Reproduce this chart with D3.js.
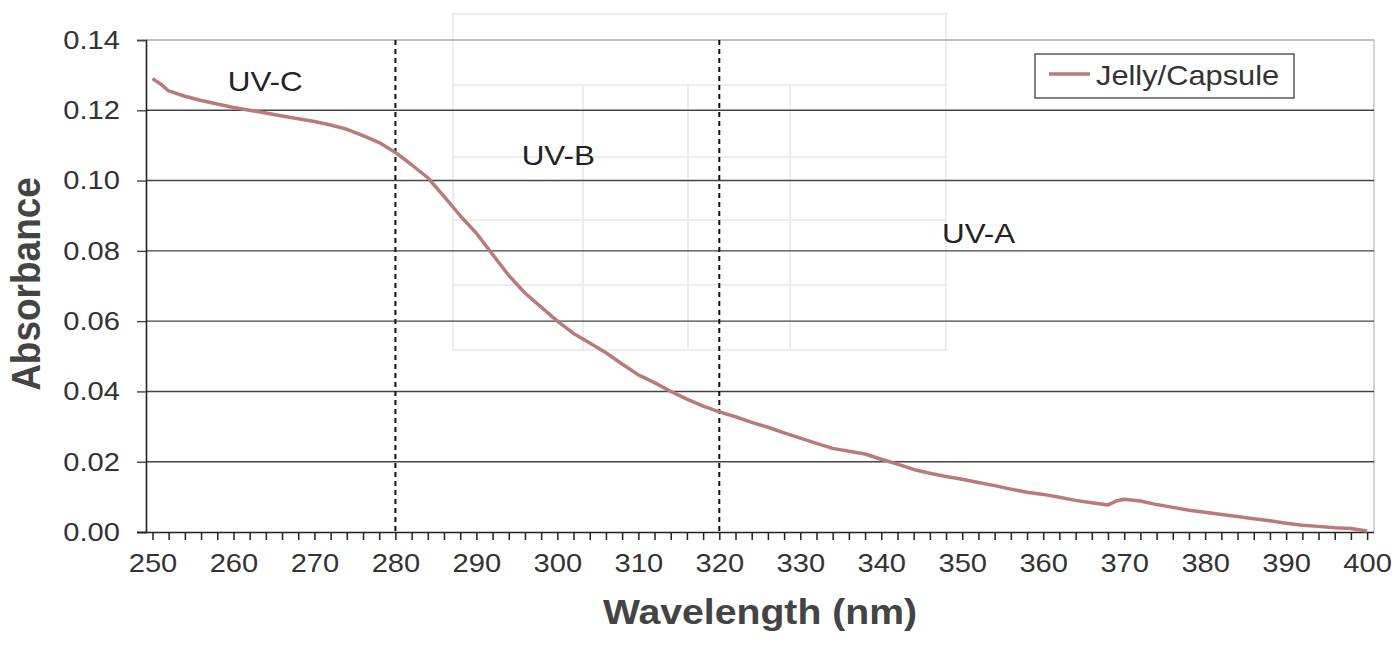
<!DOCTYPE html>
<html>
<head>
<meta charset="utf-8">
<script src="https://cdn.jsdelivr.net/npm/d3@7"></script>
<style>
  html, body { margin: 0; padding: 0; background: #fff; }
  svg { display: block; }
  text { font-family: "Liberation Sans", Arial, sans-serif; }
</style>
</head>
<body>
<svg id="chart" width="1400" height="647"></svg>
<script>
// ---- data ----
const wavelengths = [250,251,252,254,256,258,260,262,264,266,268,270,272,274,276,278,280,282,284,286,288,290,292,294,296,298,300,302,304,306,308,310,312,314,316,318,320,322,324,326,328,330,332,334,336,338,340,342,344,346,348,350,352,354,356,358,360,362,364,366,368,369,370,372,374,376,378,380,382,384,386,388,390,392,394,396,398,400];
const absorbance = [0.1290,0.1275,0.1255,0.1240,0.1228,0.1218,0.1208,0.1200,0.1192,0.1184,0.1176,0.1168,0.1158,0.1146,0.1128,0.1108,0.1080,0.1045,0.1008,0.0955,0.0900,0.0850,0.0790,0.0730,0.0680,0.0640,0.0600,0.0565,0.0538,0.0510,0.0478,0.0447,0.0425,0.0400,0.0378,0.0358,0.0342,0.0328,0.0312,0.0298,0.0282,0.0267,0.0252,0.0238,0.0230,0.0222,0.0207,0.0193,0.0178,0.0167,0.0158,0.0150,0.0141,0.0132,0.0122,0.0113,0.0107,0.0099,0.0090,0.0083,0.0077,0.0088,0.0093,0.0088,0.0078,0.0070,0.0062,0.0056,0.0050,0.0044,0.0038,0.0032,0.0025,0.0019,0.0016,0.0012,0.0010,0.0003];
const seriesName = "Jelly/Capsule";
const xTickValues = d3.range(250, 401, 2);
const xLabelValues = d3.range(250, 401, 10);
const yTickValues = [0, 0.02, 0.04, 0.06, 0.08, 0.10, 0.12, 0.14];
const bandBounds = [280, 320];
const bandLabels = [
  {name: "UV-C", wl: 259.3, val: 0.1255},
  {name: "UV-B", wl: 295.6, val: 0.1045},
  {name: "UV-A", wl: 347.5, val: 0.0822}
];
const xTitle = "Wavelength (nm)";
const yTitle = "Absorbance";

// ---- layout ----
const SX = 1.12; // horizontal text stretch seen in the scan
const pLeft = 146, pRight = 1374, pTop = 40, pBottom = 532;
const svg = d3.select("#chart");
const x = d3.scaleLinear().domain([249.2, 400.85]).range([pLeft, pRight]);
const y = d3.scaleLinear().domain([0, 0.14]).range([pBottom, pTop]);

// faint bleed-through table from the back of the scanned page
const ghost = svg.append("g").attr("stroke", "#ededed").attr("fill", "none").attr("stroke-width", 2);
ghost.append("rect").attr("x", 453).attr("y", 14).attr("width", 493).attr("height", 336);
[85, 157, 220, 285].forEach(v => ghost.append("line").attr("x1", 453).attr("x2", 946).attr("y1", v).attr("y2", v));
[583, 688, 790].forEach(v => ghost.append("line").attr("x1", v).attr("x2", v).attr("y1", 85).attr("y2", 350));

// plot border (light) on top / right
svg.append("line").attr("x1", pLeft).attr("x2", pRight).attr("y1", pTop).attr("y2", pTop).attr("stroke", "#a8a8b0").attr("stroke-width", 1.5);
svg.append("line").attr("x1", pRight).attr("x2", pRight).attr("y1", pTop).attr("y2", pBottom).attr("stroke", "#c4c4c4").attr("stroke-width", 1.5);

// gridlines
svg.append("g").selectAll("line").data(yTickValues.filter(v => v > 0 && v < 0.14)).join("line")
  .attr("x1", pLeft).attr("x2", pRight)
  .attr("y1", d => y(d)).attr("y2", d => y(d))
  .attr("stroke", "#444").attr("stroke-width", 1.4);

// band separators
svg.append("g").selectAll("line").data(bandBounds).join("line")
  .attr("x1", d => x(d)).attr("x2", d => x(d))
  .attr("y1", pTop).attr("y2", pBottom)
  .attr("stroke", "#111").attr("stroke-width", 2).attr("stroke-dasharray", "5,4");

// axes
const yAxis = svg.append("g").attr("transform", `translate(${pLeft},0)`)
  .call(d3.axisLeft(y).tickValues(yTickValues).tickFormat(d3.format(".2f")).tickSize(9).tickPadding(17));
yAxis.select(".domain").attr("stroke", "#222").attr("stroke-width", 1.6);
yAxis.selectAll(".tick line").attr("stroke", "#444").attr("stroke-width", 1.4);
yAxis.selectAll(".tick text")
  .attr("font-size", 26).attr("fill", "#333")
  .attr("x", -26 / SX).attr("transform", `scale(${SX},1)`);

const xAxis = svg.append("g").attr("transform", `translate(0,${pBottom})`)
  .call(d3.axisBottom(x).tickValues(xTickValues)
    .tickFormat(d => (xLabelValues.includes(d) ? String(d) : "")).tickSizeInner(8).tickSizeOuter(0).tickPadding(14));
xAxis.select(".domain").attr("stroke", "#222").attr("stroke-width", 1.6).attr("d", `M${pLeft - 9},0.5H${pRight}`);
xAxis.selectAll(".tick line").attr("stroke", "#222").attr("stroke-width", 1.5);
xAxis.selectAll(".tick text")
  .attr("font-size", 26).attr("fill", "#333")
  .attr("transform", `scale(${SX},1)`);

// data line
const line = d3.line().x((d, i) => x(wavelengths[i])).y(d => y(d));
svg.append("path").datum(absorbance)
  .attr("d", line).attr("fill", "none")
  .attr("stroke", "#b97a7a").attr("stroke-width", 3.5).attr("stroke-linejoin", "round");

// band labels
bandLabels.forEach(b => {
  svg.append("g").attr("transform", `translate(${x(b.wl)},${y(b.val)}) scale(${SX},1)`)
    .append("text").attr("font-size", 28).attr("fill", "#222").text(b.name);
});

// legend
const lg = svg.append("g");
lg.append("rect").attr("x", 1035).attr("y", 54).attr("width", 259).attr("height", 44)
  .attr("fill", "#fff").attr("stroke", "#333").attr("stroke-width", 1.2);
lg.append("line").attr("x1", 1049).attr("x2", 1090).attr("y1", 74).attr("y2", 74)
  .attr("stroke", "#b97a7a").attr("stroke-width", 3.5);
lg.append("g").attr("transform", `translate(1096,85) scale(${SX},1)`)
  .append("text").attr("font-size", 27.5).attr("fill", "#333").text(seriesName);

// axis titles
svg.append("g").attr("transform", `translate(760,624) scale(${SX},1)`)
  .append("text").attr("text-anchor", "middle").attr("font-size", 35).attr("font-weight", "bold").attr("fill", "#444").text(xTitle);
svg.append("g").attr("transform", `translate(40,284) rotate(-90) scale(1,${SX})`)
  .append("text").attr("text-anchor", "middle").attr("font-size", 37).attr("font-weight", "bold").attr("fill", "#444").text(yTitle);
</script>
</body>
</html>
